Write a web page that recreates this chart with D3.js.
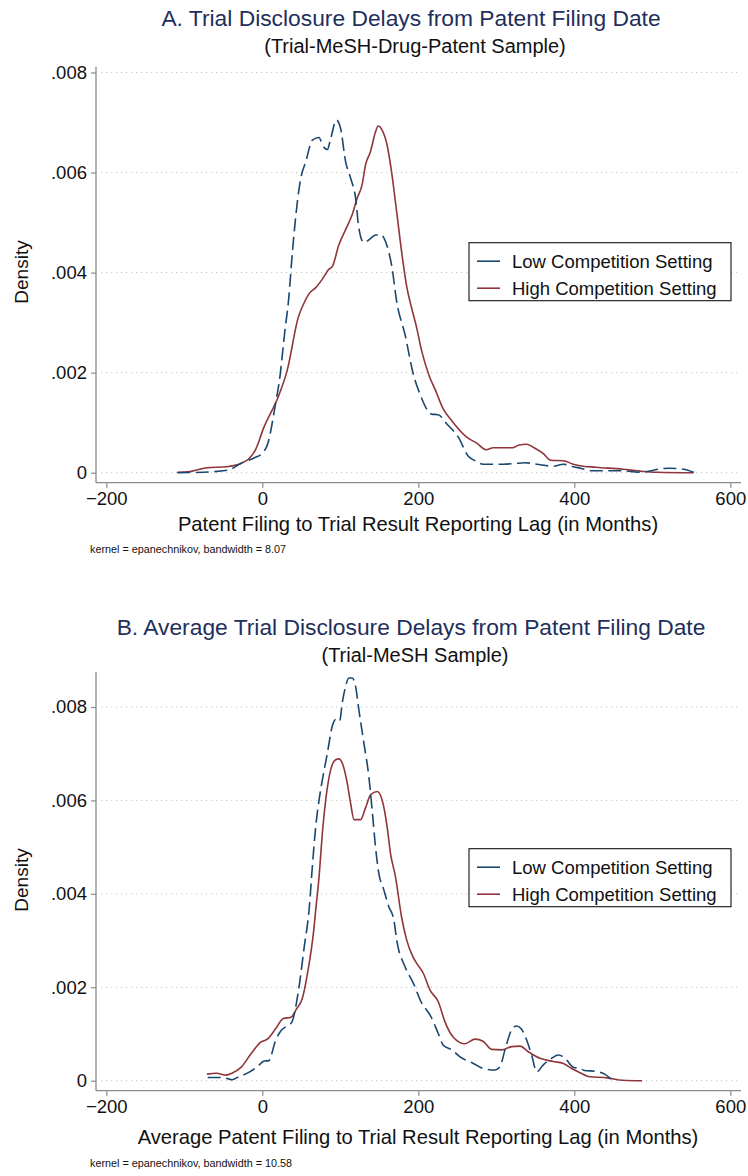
<!DOCTYPE html>
<html>
<head>
<meta charset="utf-8">
<script src="https://cdn.jsdelivr.net/npm/d3@7/dist/d3.min.js"></script>
<style>
  html, body { margin: 0; padding: 0; background: #fff; }
  svg { display: block; font-family: "Liberation Sans", Arial, Helvetica, sans-serif; }
</style>
</head>
<body>
<svg id="chart" width="748" height="1176"></svg>
<script>
// Kernel density estimates of disclosure lag (months) by competition setting

// Panel A: Trial-MeSH-Drug-Patent sample, [lag, density]
const lowCompA = [
  [-109,0],[-76,0.00001],[-44,0.00005],[-27,0.00019],[-10,0.0003],[0,0.00039],[7,0.00058],
  [17,0.00138],[22,0.00185],[29,0.00284],[33.6,0.00344],[38.7,0.00443],[45,0.00542],
  [49.4,0.00589],[55.8,0.00622],[64.2,0.00665],[72.8,0.0067],[77,0.00655],[83.4,0.00646],
  [87.7,0.00668],[94.9,0.00705],[100.4,0.00688],[106.8,0.00622],[113.2,0.00589],
  [119.6,0.00549],[123.8,0.00489],[130.2,0.0046],[134.4,0.00463],[145.1,0.00475],
  [151.5,0.00476],[160,0.00453],[166.3,0.0041],[172.3,0.00342],[183,0.00276],
  [193.6,0.00197],[202.2,0.00157],[217.2,0.00117],[225.6,0.00116],[236.3,0.00098],
  [251.3,0.00071],[264.1,0.00033],[272.7,0.00024],[283.3,0.00017],[309,0.00017],
  [321.8,0.00018],[336.8,0.0002],[351.8,0.00017],[373,0.00013],[385.9,0.00017],
  [398.7,0.00012],[408,0.00009],[423,0.00004],[462,0.00004],[482,0.00001],
  [521,0.00009],[540,0.00007],[553,0.00001]
];
const highCompA = [
  [-109,0.00001],[-95,0.00002],[-71,0.0001],[-46,0.00012],[-27,0.00019],[-10,0.00042],
  [2.4,0.00092],[22,0.00158],[32,0.00205],[46,0.0031],[55,0.00344],[60,0.00358],
  [68.5,0.0037],[77,0.00387],[85.5,0.00407],[89.7,0.00412],[98.3,0.00456],[106.8,0.00486],
  [115.3,0.00516],[121.7,0.00549],[128,0.00576],[132.3,0.00615],[138.7,0.00642],
  [145.1,0.00681],[148.4,0.00693],[153.6,0.00685],[160,0.00655],[166.3,0.00595],
  [172.7,0.00516],[179.1,0.00436],[185.4,0.0037],[189.4,0.00342],[198,0.00289],
  [204.4,0.00243],[214.1,0.00193],[221.4,0.00167],[232.1,0.00127],[242.9,0.00104],
  [262.1,0.00071],[274.9,0.00059],[286.8,0.00046],[296.2,0.0005],[309,0.0005],
  [321.8,0.0005],[328.2,0.00055],[338.9,0.00057],[347.4,0.00051],[360.3,0.00038],
  [369.7,0.00025],[385.9,0.00024],[398.7,0.00017],[407.3,0.00014],[428,0.00011],
  [462,0.00007],[486,0.00003],[506,0.00001],[553,0]
];

// Panel B: Trial-MeSH sample, [average lag, density]
const lowCompB = [
  [-70,0.00007],[-51,0.00007],[-39,0.00002],[-32,0.00007],[-15,0.0002],[-7,0.00029],
  [2.4,0.00042],[8.3,0.00043],[17,0.00086],[24.4,0.00108],[31.8,0.00117],[37.7,0.00125],
  [46.5,0.00194],[53.8,0.00287],[60,0.00366],[64.2,0.00459],[68.5,0.00544],[72.8,0.00601],
  [77,0.00644],[83.4,0.00701],[89.7,0.00759],[94,0.00773],[99.1,0.00769],[102.5,0.00809],
  [106.8,0.00844],[111,0.00862],[115.3,0.00862],[119.6,0.00844],[123.8,0.00794],
  [130.2,0.00723],[136.6,0.00651],[140.8,0.0058],[145.1,0.00501],[149.4,0.00444],
  [155.7,0.00409],[162.1,0.00373],[168.7,0.00344],[172.3,0.00301],[183,0.00244],
  [193.6,0.00209],[204.4,0.00166],[215,0.00141],[225.6,0.00101],[232,0.00076],
  [242.9,0.00066],[253.5,0.00051],[270.6,0.00037],[283.4,0.00026],[298.3,0.00023],
  [304.7,0.0003],[311.1,0.00066],[319.7,0.00109],[326.1,0.00117],[332.5,0.0011],
  [338.9,0.00087],[345.3,0.00055],[351.8,0.00019],[360.3,0.00034],[371,0.00048],
  [379.6,0.00055],[388.1,0.00048],[398.7,0.00029],[407.3,0.00026],[413,0.00022],
  [428,0.0002],[440,0.00013],[447,0.00004]
];
const highCompB = [
  [-71,0.00014],[-58.7,0.00016],[-46.5,0.00012],[-39,0.00016],[-27,0.00029],[-14.7,0.00057],
  [-2.4,0.00082],[7.3,0.0009],[17,0.00111],[27,0.00133],[36.7,0.00136],[44,0.00154],
  [51.3,0.00176],[58.7,0.00237],[66,0.00323],[68.5,0.00366],[72.8,0.00437],[77,0.0053],
  [81.3,0.00601],[87.7,0.00666],[94,0.00687],[98.3,0.00689],[102.5,0.0068],[108.9,0.00637],
  [113.2,0.00594],[117.5,0.00559],[126,0.00559],[132.3,0.00584],[138.7,0.00612],
  [147.2,0.00619],[153.6,0.00601],[160,0.00544],[164.3,0.00487],[170.7,0.00437],
  [178.5,0.00351],[185.1,0.00301],[193.2,0.00265],[198,0.00251],[206.4,0.0023],
  [215,0.00194],[225.6,0.00169],[234.2,0.00126],[244.9,0.00093],[259.9,0.00079],
  [272.7,0.00089],[283.4,0.00084],[294.1,0.00067],[306.9,0.00066],[319.7,0.00073],
  [330.4,0.00074],[341,0.00062],[356,0.00048],[373,0.00041],[385.9,0.00037],
  [396.6,0.00026],[407.3,0.00017],[418,0.00009],[442.5,0.00006],[462,0.00001],[487,0]
];

// Axis ticks and labels
const xTicks = [-200, 0, 200, 400, 600];
const yTicks = [0, 0.002, 0.004, 0.006, 0.008];
const yTickLabels = ["0", ".002", ".004", ".006", ".008"];
const seriesNames = ["Low Competition Setting", "High Competition Setting"];

const panels = [
  {
    title: "A. Trial Disclosure Delays from Patent Filing Date",
    subtitle: "(Trial-MeSH-Drug-Patent Sample)",
    xTitle: "Patent Filing to Trial Result Reporting Lag (in Months)",
    note: "kernel = epanechnikov, bandwidth = 8.07",
    low: lowCompA, high: highCompA
  },
  {
    title: "B. Average Trial Disclosure Delays from Patent Filing Date",
    subtitle: "(Trial-MeSH Sample)",
    xTitle: "Average Patent Filing to Trial Result Reporting Lag (in Months)",
    note: "kernel = epanechnikov, bandwidth = 10.58",
    low: lowCompB, high: highCompB
  }
];

// Layout of each panel (pixel geometry)
const layout = [
  { titleY: 26, subY: 53, yZero: 472.7, yMax: 72.5, axisTop: 67, axisY: 482.7,
    xLabY: 505.5, xTitleY: 531, noteY: 553, densY: 272, legTop: 242.7 },
  { titleY: 635, subY: 662, yZero: 1080.7, yMax: 707, axisTop: 672, axisY: 1090.7,
    xLabY: 1113.5, xTitleY: 1144, noteY: 1167, densY: 880, legTop: 848.7 }
];

const colLow = "#1a476f", colHigh = "#90353b", titleCol = "#1f2f5c", axisCol = "#8a8a8a";
const plotLeft = 96, plotRight = 741;

const svg = d3.select("#chart");
svg.append("rect").attr("width", 748).attr("height", 1176).attr("fill", "#fff");

const x = d3.scaleLinear().domain([-200, 600]).range([106.3, 730.3]);

panels.forEach((p, i) => {
  const L = layout[i];
  const g = svg.append("g");
  const y = d3.scaleLinear().domain([0, 0.008]).range([L.yZero, L.yMax]);

  // titles
  g.append("text").attr("x", 411).attr("y", L.titleY).attr("text-anchor", "middle")
    .attr("font-size", 22.8).attr("fill", titleCol).text(p.title);
  g.append("text").attr("x", 415).attr("y", L.subY).attr("text-anchor", "middle")
    .attr("font-size", 20).attr("fill", "#111").text(p.subtitle);

  // horizontal dotted gridlines
  g.selectAll("line.grid").data(yTicks).join("line").attr("class", "grid")
    .attr("x1", plotLeft + 5).attr("x2", plotRight)
    .attr("y1", d => y(d)).attr("y2", d => y(d))
    .attr("stroke", "#c4c4c4").attr("stroke-width", 1).attr("stroke-dasharray", "1.2,3.8");

  // y axis
  const yAxis = d3.axisLeft(y).tickValues(yTicks).tickSize(5).tickPadding(4)
    .tickFormat((d, k) => yTickLabels[k]);
  const ya = g.append("g").attr("transform", `translate(${plotLeft},0)`).call(yAxis);
  ya.select(".domain").remove();
  ya.append("line").attr("x1", 0).attr("x2", 0).attr("y1", L.axisTop).attr("y2", L.axisY)
    .attr("stroke", axisCol).attr("stroke-width", 1.3);
  ya.selectAll(".tick line").attr("stroke", axisCol).attr("stroke-width", 1.2);
  ya.selectAll(".tick text").attr("font-size", 18.5).attr("fill", "#111")
    .attr("font-family", "Liberation Sans, Arial, sans-serif");

  // x axis
  const xAxis = d3.axisBottom(x).tickValues(xTicks).tickSize(5).tickPadding(5)
    .tickFormat(d3.format("d"));
  const xa = g.append("g").attr("transform", `translate(0,${L.axisY})`).call(xAxis);
  xa.select(".domain").remove();
  xa.append("line").attr("x1", plotLeft).attr("x2", plotRight).attr("y1", 0).attr("y2", 0)
    .attr("stroke", axisCol).attr("stroke-width", 1.3);
  xa.selectAll(".tick line").attr("stroke", axisCol).attr("stroke-width", 1.2);
  xa.selectAll(".tick text").attr("font-size", 18.5).attr("fill", "#111")
    .attr("font-family", "Liberation Sans, Arial, sans-serif")
    .attr("dy", null).attr("y", L.xLabY - L.axisY);

  // axis titles
  g.append("text").attr("transform", `translate(28,${L.densY}) rotate(-90)`)
    .attr("text-anchor", "middle").attr("font-size", 19).attr("fill", "#111").text("Density");
  g.append("text").attr("x", 418).attr("y", L.xTitleY).attr("text-anchor", "middle")
    .attr("font-size", 20.2).attr("fill", "#111").text(p.xTitle);
  g.append("text").attr("x", 90).attr("y", L.noteY)
    .attr("font-size", 10.8).attr("fill", "#111").text(p.note);

  // density curves
  const line = d3.line().x(d => x(d[0])).y(d => y(d[1])).curve(d3.curveMonotoneX);
  g.append("path").datum(p.high).attr("d", line).attr("fill", "none")
    .attr("stroke", colHigh).attr("stroke-width", 1.6);
  g.append("path").datum(p.low).attr("d", line).attr("fill", "none")
    .attr("stroke", colLow).attr("stroke-width", 1.6).attr("stroke-dasharray", "13,5.5");

  // legend
  const lg = g.append("g").attr("transform", `translate(469,${L.legTop})`);
  lg.append("rect").attr("width", 262).attr("height", 58).attr("fill", "#fff")
    .attr("stroke", "#111").attr("stroke-width", 1.1);
  [colLow, colHigh].forEach((c, k) => {
    const cy = 18.5 + k * 27;
    lg.append("line").attr("x1", 8).attr("x2", 31).attr("y1", cy).attr("y2", cy)
      .attr("stroke", c).attr("stroke-width", 1.6);
    lg.append("text").attr("x", 43).attr("y", cy + 6.5).attr("font-size", 18.5)
      .attr("fill", "#111").text(seriesNames[k]);
  });
});
</script>
</body>
</html>
